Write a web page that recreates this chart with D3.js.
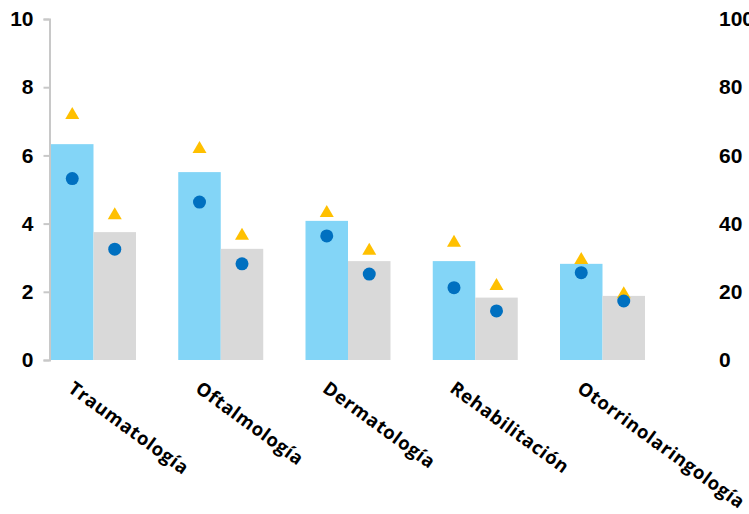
<!DOCTYPE html>
<html>
<head>
<meta charset="utf-8">
<script src="https://cdn.jsdelivr.net/npm/d3@7"></script>
<style>
  html, body { margin: 0; padding: 0; background: #fff; }
  svg { display: block; }
</style>
</head>
<body>
<svg id="chart" width="749" height="514"></svg>
<script>
// Categories and series
const categories = ["Traumatología", "Oftalmología", "Dermatología", "Rehabilitación", "Otorrinolaringología"];
const barsA = [6.33, 5.51, 4.08, 2.90, 2.82];   // left axis, light blue bars
const barsB = [3.75, 3.26, 2.90, 1.83, 1.88];   // left axis, grey bars
const dotsA = [53.2, 46.3, 36.4, 21.2, 25.6];   // right axis, circles over blue bars
const dotsB = [32.5, 28.2, 25.2, 14.4, 17.3];   // right axis, circles over grey bars
const triA  = [72.4, 62.5, 43.7, 35.0, 29.9];   // right axis, triangles over blue bars
const triB  = [43.0, 37.0, 32.6, 22.3, 19.9];   // right axis, triangles over grey bars
const leftTicks = [0, 2, 4, 6, 8, 10];
const rightTicks = [0, 20, 40, 60, 80, 100];

const svg = d3.select("#chart");
const y0 = 360, y1 = 19;

const x = d3.scaleBand().domain(categories).range([51, 645]).paddingInner(0.332).paddingOuter(0);
const sub = d3.scaleBand().domain(["A", "B"]).range([0, x.bandwidth()]).padding(0);
const yL = d3.scaleLinear().domain([0, 10]).range([y0, y1]);
const yR = d3.scaleLinear().domain([0, 100]).range([y0, y1]);

// Left axis
const axL = svg.append("g").attr("transform", "translate(49.5,0)")
  .call(d3.axisLeft(yL).tickValues(leftTicks).tickSize(6).tickPadding(10));
axL.select(".domain").attr("stroke", "#c8c8c8").attr("stroke-width", 2);
axL.selectAll(".tick line").attr("stroke", "#c8c8c8").attr("stroke-width", 2);
axL.selectAll(".tick text")
  .attr("font-family", "'Liberation Sans', Arial, sans-serif")
  .attr("font-weight", "bold").attr("font-size", 21).attr("fill", "#000");

// Right axis (labels only)
const axR = svg.append("g").attr("transform", "translate(719,0)")
  .call(d3.axisRight(yR).tickValues(rightTicks).tickSize(0).tickPadding(0));
axR.select(".domain").remove();
axR.selectAll(".tick text")
  .attr("font-family", "'Liberation Sans', Arial, sans-serif")
  .attr("font-weight", "bold").attr("font-size", 21).attr("fill", "#000");

// Bars
const groups = svg.append("g").selectAll("g").data(categories).join("g")
  .attr("transform", d => `translate(${x(d)},0)`);

groups.append("rect")
  .attr("x", sub("A")).attr("width", sub.bandwidth())
  .attr("y", (d, i) => yL(barsA[i])).attr("height", (d, i) => y0 - yL(barsA[i]))
  .attr("fill", "#83d5f7");
groups.append("rect")
  .attr("x", sub("B")).attr("width", sub.bandwidth())
  .attr("y", (d, i) => yL(barsB[i])).attr("height", (d, i) => y0 - yL(barsB[i]))
  .attr("fill", "#d9d9d9");

// Triangle markers centred on their value
const tri = "M0,-6 L7,6 L-7,6 Z";
const cx = k => sub(k) + sub.bandwidth() / 2;

groups.append("path").attr("d", tri).attr("fill", "#ffc000")
  .attr("transform", (d, i) => `translate(${cx("A")},${yR(triA[i])})`);
groups.append("path").attr("d", tri).attr("fill", "#ffc000")
  .attr("transform", (d, i) => `translate(${cx("B")},${yR(triB[i])})`);

groups.append("circle").attr("r", 6.5).attr("fill", "#0070c0")
  .attr("cx", cx("A")).attr("cy", (d, i) => yR(dotsA[i]));
groups.append("circle").attr("r", 6.5).attr("fill", "#0070c0")
  .attr("cx", cx("B")).attr("cy", (d, i) => yR(dotsB[i]));

// Rotated category labels
svg.append("g").selectAll("text").data(categories).join("text")
  .attr("transform", d => `translate(${x(d) + 16},${391}) rotate(36)`)
  .attr("font-family", "'Open Sans', 'Noto Sans', sans-serif")
  .attr("font-weight", "bold").attr("font-size", 18.5)
  .attr("letter-spacing", 0.6)
  .attr("fill", "#000")
  .text(d => d);
</script>
</body>
</html>
